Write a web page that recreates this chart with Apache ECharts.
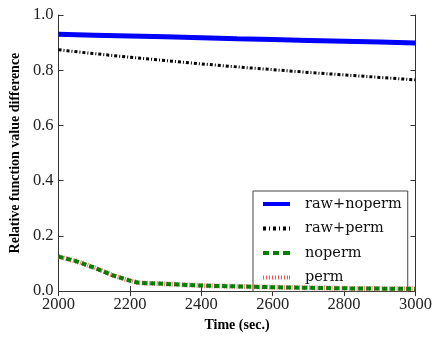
<!DOCTYPE html>
<html>
<head>
<meta charset="utf-8">
<script src="https://cdn.jsdelivr.net/npm/echarts@6/dist/echarts.min.js"></script>
<style>
  html, body { margin: 0; padding: 0; background: #fff; }
  #chart { width: 435px; height: 337px; }
</style>
</head>
<body>
<div id="chart"></div>
<script>
// time axis (sec.)
var rawTimes = [2000, 2100, 2200, 2300, 2400, 2500, 2600, 2700, 2800, 2900, 3000];
var rawNoperm = [0.930, 0.927, 0.924, 0.921, 0.918, 0.914, 0.911, 0.908, 0.905, 0.902, 0.899];
var rawPerm = [0.874, 0.860, 0.847, 0.835, 0.823, 0.812, 0.802, 0.792, 0.783, 0.774, 0.765];

var permTimes = [2000, 2050, 2100, 2150, 2200, 2225, 2300, 2400, 2500, 2600, 2700, 2800, 2900, 3000];
var noperm = [0.125, 0.108, 0.085, 0.058, 0.038, 0.030, 0.026, 0.020, 0.017, 0.014, 0.012, 0.010, 0.009, 0.008];
var perm = [0.125, 0.108, 0.085, 0.058, 0.038, 0.030, 0.026, 0.020, 0.017, 0.014, 0.012, 0.010, 0.009, 0.008];

var seriesNames = ['raw+noperm', 'raw+perm', 'noperm', 'perm'];

function pairs(xs, ys) {
  return xs.map(function (x, i) { return [x, ys[i]]; });
}

var font = 'Liberation Serif, DejaVu Serif, serif';
var axisColor = '#333';

// legend samples drawn as little paths so the dash patterns show
var legendIcons = {
  'raw+noperm': 'path://M0,0H27V4H0Z',
  'raw+perm': 'path://M0,0H3V4H0Z M6,0H7V4H6Z M10,0H13V4H10Z M16,0H17V4H16Z M20,0H23V4H20Z M26,0H27V4H26Z',
  'noperm': 'path://M0,0H6V4H0Z M10,0H16V4H10Z M20,0H27V4H20Z',
  'perm': 'path://M0,0H1V4H0Z M3,0H4V4H3Z M6,0H7V4H6Z M9,0H10V4H9Z M12,0H13V4H12Z M15,0H16V4H15Z M18,0H19V4H18Z M21,0H22V4H21Z M24,0H25V4H24Z M26,0H27V4H26Z'
};

var chart = echarts.init(document.getElementById('chart'));
var option = {
  animation: false,
  grid: { left: 49, top: 15, width: 369, height: 285 },
  legend: {
    orient: 'vertical',
    left: 253,
    top: 191,
    padding: [5, 6, 6, 10],
    itemGap: 8.5,
    itemWidth: 27,
    itemHeight: 4,
    symbolKeepAspect: false,
    borderColor: '#444',
    borderWidth: 1,
    borderRadius: 0,
    backgroundColor: '#fff',
    textStyle: { fontFamily: 'DejaVu Serif, serif', fontSize: 14.5, lineHeight: 16, color: '#111', padding: [0, 0, 0, 10] },
    data: seriesNames.map(function (n) { return { name: n, icon: legendIcons[n] }; })
  },
  xAxis: [{
    type: 'value',
    min: 2000, max: 3000, interval: 200,
    name: 'Time (sec.)',
    nameLocation: 'middle',
    nameGap: 25,
    nameTextStyle: { fontFamily: font, fontSize: 14, fontWeight: 'bold', color: '#000' },
    axisLine: { show: true, lineStyle: { color: axisColor } },
    axisTick: { show: true, inside: true, length: 5, lineStyle: { color: axisColor } },
    axisLabel: { fontFamily: font, fontSize: 16.5, color: '#222', margin: 5,
      formatter: function (v) { return String(v); } },
    splitLine: { show: false }
  }, {
    type: 'value', position: 'top',
    min: 2000, max: 3000, interval: 200,
    axisLine: { show: true, lineStyle: { color: axisColor } },
    axisTick: { show: true, inside: true, length: 5, lineStyle: { color: axisColor } },
    axisLabel: { show: false },
    splitLine: { show: false }
  }],
  yAxis: [{
    type: 'value',
    min: 0, max: 1, interval: 0.2,
    name: 'Relative function value difference',
    nameLocation: 'middle',
    nameGap: 31,
    nameTextStyle: { fontFamily: font, fontSize: 14, fontWeight: 'bold', color: '#000' },
    axisLine: { show: true, lineStyle: { color: axisColor } },
    axisTick: { show: true, inside: true, length: 5, lineStyle: { color: axisColor } },
    axisLabel: { fontFamily: font, fontSize: 16.5, color: '#222', margin: 5,
      formatter: function (v) { return v.toFixed(1); } },
    splitLine: { show: false }
  }, {
    type: 'value', position: 'right',
    min: 0, max: 1, interval: 0.2,
    axisLine: { show: true, lineStyle: { color: axisColor } },
    axisTick: { show: true, inside: true, length: 5, lineStyle: { color: axisColor } },
    axisLabel: { show: false },
    splitLine: { show: false }
  }],
  series: [{
    name: 'raw+noperm', type: 'line', symbol: 'none', z: 2,
    data: pairs(rawTimes, rawNoperm),
    itemStyle: { color: '#0000ff' },
    lineStyle: { color: '#0000ff', width: 5 }
  }, {
    name: 'raw+perm', type: 'line', symbol: 'none', z: 2,
    data: pairs(rawTimes, rawPerm),
    itemStyle: { color: '#000' },
    lineStyle: { color: '#000', width: 3, type: [3, 2, 1, 2] }
  }, {
    name: 'perm', type: 'line', symbol: 'none', z: 5,
    data: pairs(permTimes, perm),
    itemStyle: { color: '#ff5050' },
    lineStyle: { color: '#ff5050', width: 5, type: [1, 1.5], opacity: 0.8 }
  }, {
    name: 'noperm', type: 'line', symbol: 'none', z: 6,
    data: pairs(permTimes, noperm),
    itemStyle: { color: '#008000' },
    lineStyle: { color: '#008000', width: 4, type: [5, 3] }
  }]
};
chart.setOption(option);
</script>
</body>
</html>
